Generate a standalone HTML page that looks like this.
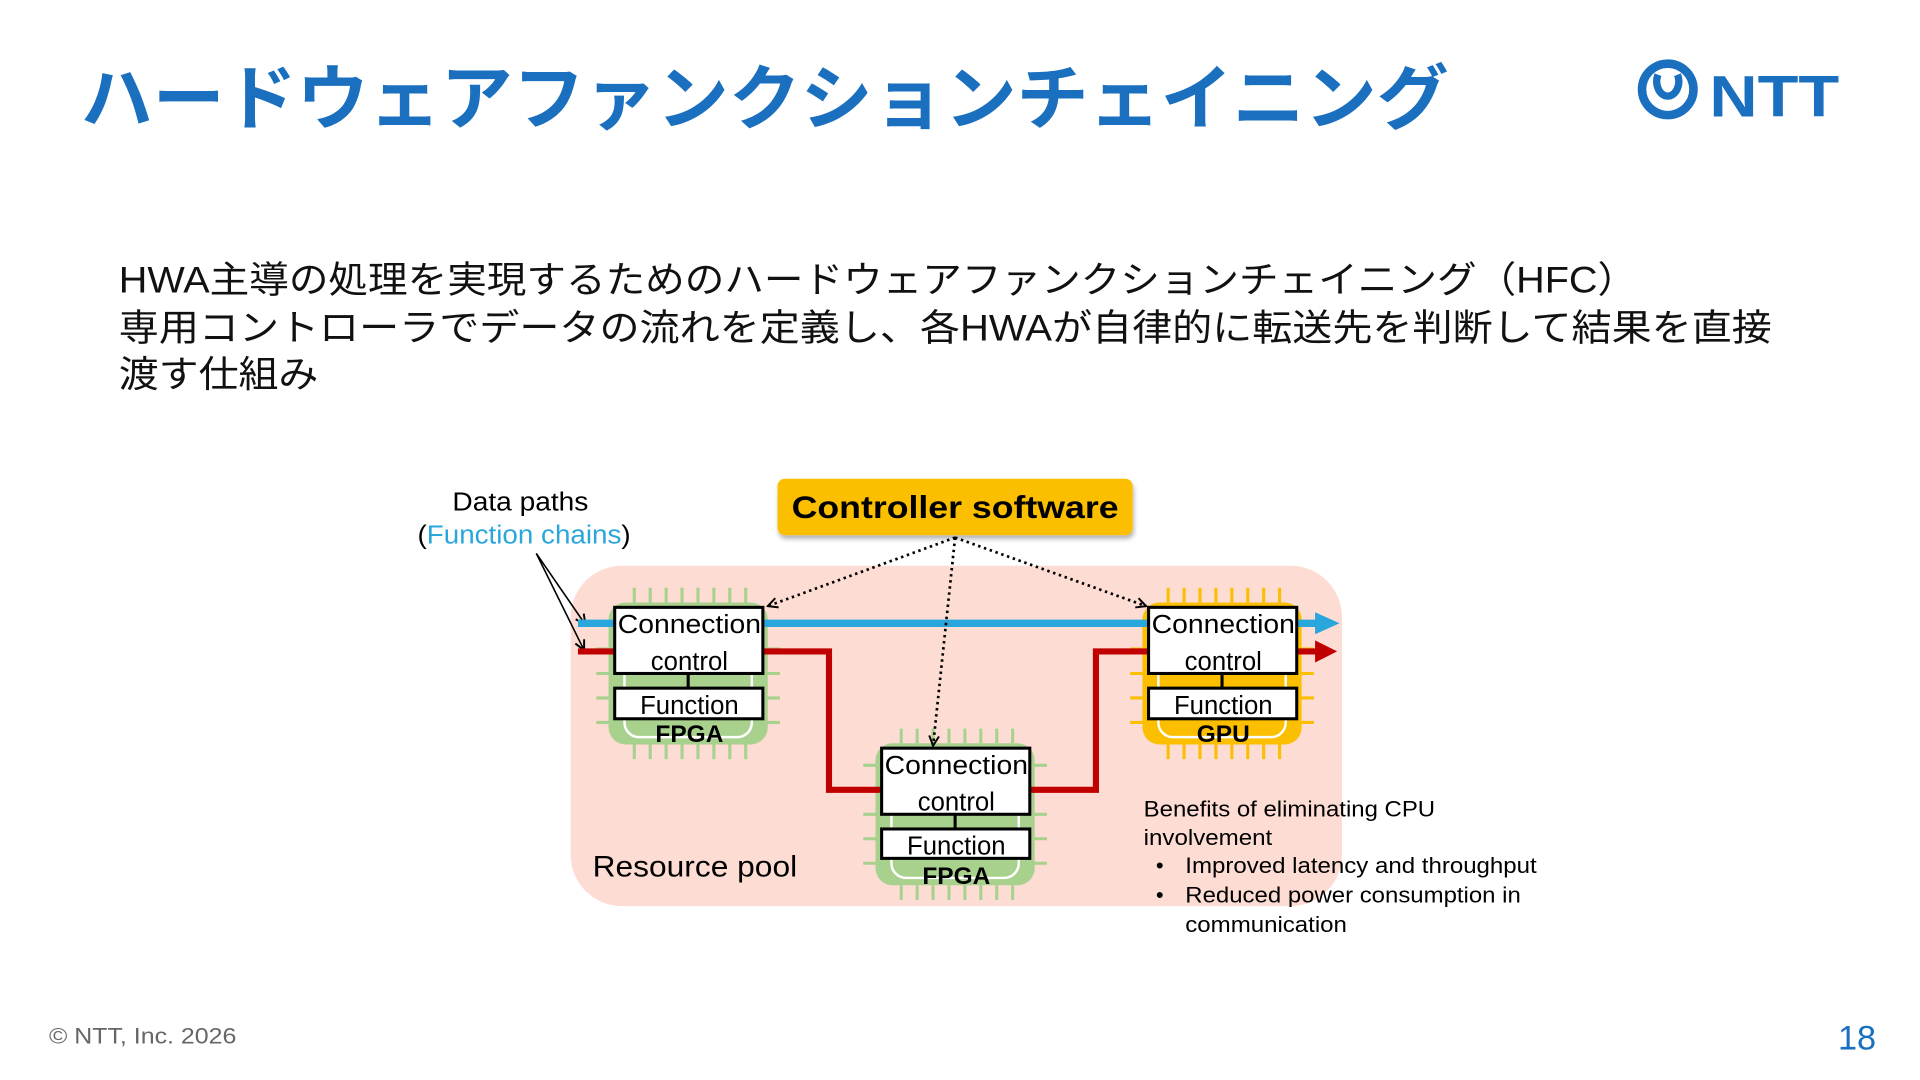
<!DOCTYPE html>
<html><head><meta charset="utf-8"><style>
html,body{margin:0;padding:0;background:#fff;width:1920px;height:1080px;overflow:hidden}
svg{display:block}
text{font-family:"Liberation Sans","Noto Sans CJK JP",sans-serif}
</style></head><body>
<svg width="1920" height="1080" viewBox="0 0 1568 882" xmlns="http://www.w3.org/2000/svg">
<defs>
<marker id="ah" markerWidth="10" markerHeight="10" refX="9" refY="5" orient="auto" markerUnits="userSpaceOnUse"><path d="M1,1 L9,5 L1,9" fill="none" stroke="#000" stroke-width="1.6"/></marker>
<filter id="sh" x="-10%" y="-10%" width="130%" height="140%"><feDropShadow dx="1" dy="3" stdDeviation="2" flood-color="#000" flood-opacity="0.3"/></filter>
</defs>
<text x="66" y="101" font-size="58" font-weight="bold" fill="#1a6fbf" style="font-family:'Noto Sans CJK JP',sans-serif" textLength="1117" lengthAdjust="spacingAndGlyphs">ハードウェアファンクションチェイニング</text>
<circle cx="1362" cy="73" r="21" fill="none" stroke="#1a6fbf" stroke-width="7"/>
<path d="M1362,73 m-8,-12 a9,12 0 1,0 16,0" fill="none" stroke="#1a6fbf" stroke-width="6"/>
<text x="1396" y="95" font-size="48" font-weight="bold" fill="#1a6fbf" textLength="106" lengthAdjust="spacingAndGlyphs">NTT</text>
<g font-size="30" fill="#111" style="font-family:'Liberation Sans','Noto Sans CJK JP',sans-serif">
<text x="97" y="239" textLength="1240" lengthAdjust="spacingAndGlyphs">HWA主導の処理を実現するためのハードウェアファンクションチェイニング（HFC）</text>
<text x="97" y="278" textLength="1350" lengthAdjust="spacingAndGlyphs">専用コントローラでデータの流れを定義し、各HWAが自律的に転送先を判断して結果を直接</text>
<text x="97" y="316" textLength="163" lengthAdjust="spacingAndGlyphs">渡す仕組み</text>
</g>
<rect x="466" y="462" width="630" height="278" rx="42" fill="#fcdcd3"/>
<text x="484" y="716" font-size="24" fill="#000" textLength="167" lengthAdjust="spacingAndGlyphs">Resource pool</text>
<rect x="635" y="391" width="290" height="46" rx="6" fill="#fbbf00" filter="url(#sh)"/>
<text x="780" y="423" font-size="26" font-weight="bold" text-anchor="middle" textLength="267" lengthAdjust="spacingAndGlyphs">Controller software</text>
<text x="425" y="417" font-size="21" text-anchor="middle" textLength="111" lengthAdjust="spacingAndGlyphs">Data paths</text>
<text x="428" y="444" font-size="21" text-anchor="middle" textLength="174" lengthAdjust="spacingAndGlyphs">(<tspan fill="#29a6dc">Function chains</tspan>)</text>
<line x1="438" y1="452" x2="478" y2="510" stroke="#000" stroke-width="1.3" marker-end="url(#ah)"/>
<line x1="438" y1="452" x2="477" y2="531" stroke="#000" stroke-width="1.3" marker-end="url(#ah)"/>

<g stroke="#a9d18e" stroke-width="2.5">
<path d="M518,480v12M531,480v12M544,480v12M557,480v12M570,480v12M583,480v12M596,480v12M609,480v12M518,608v12M531,608v12M544,608v12M557,608v12M570,608v12M583,608v12M596,608v12M609,608v12M487,510h11M487,530h11M487,550h11M487,570h11M487,590h11M626,510h11M626,530h11M626,550h11M626,570h11M626,590h11"/>
<path d="M736,595v12M749,595v12M762,595v12M775,595v12M788,595v12M801,595v12M814,595v12M827,595v12M736,723v12M749,723v12M762,723v12M775,723v12M788,723v12M801,723v12M814,723v12M827,723v12M705,625h11M705,645h11M705,665h11M705,685h11M705,705h11M844,625h11M844,645h11M844,665h11M844,685h11M844,705h11"/>
</g>
<g stroke="#fbbf00" stroke-width="2.5">
<path d="M954,480v12M967,480v12M980,480v12M993,480v12M1006,480v12M1019,480v12M1032,480v12M1045,480v12M954,608v12M967,608v12M980,608v12M993,608v12M1006,608v12M1019,608v12M1032,608v12M1045,608v12M923,510h11M923,530h11M923,550h11M923,570h11M923,590h11M1062,510h11M1062,530h11M1062,550h11M1062,570h11M1062,590h11"/>
</g>
<rect x="497" y="492" width="130" height="116" rx="14" fill="#a9d18e"/>
<rect x="510" y="505" width="104" height="97" rx="12" fill="none" stroke="#fff" stroke-width="2"/>
<rect x="715" y="607" width="130" height="116" rx="14" fill="#a9d18e"/>
<rect x="728" y="620" width="104" height="97" rx="12" fill="none" stroke="#fff" stroke-width="2"/>
<rect x="933" y="492" width="130" height="116" rx="14" fill="#fbbf00"/>
<rect x="946" y="505" width="104" height="97" rx="12" fill="none" stroke="#fff" stroke-width="2"/>

<line x1="472" y1="509" x2="1076" y2="509" stroke="#29a6dc" stroke-width="6"/>
<polygon points="1074,500 1094,509 1074,518" fill="#29a6dc"/>
<polyline points="472,532 677,532 677,645 895,645 895,532 1076,532" fill="none" stroke="#c00000" stroke-width="5"/>
<polygon points="1074,523 1092,532 1074,541" fill="#c00000"/>

<g stroke="#000" stroke-width="2.5" fill="#fff">
<rect x="502" y="496" width="121" height="54"/>
<rect x="502" y="562" width="121" height="25"/>
<rect x="720" y="611" width="121" height="54"/>
<rect x="720" y="677" width="121" height="24"/>
<rect x="938" y="496" width="121" height="54"/>
<rect x="938" y="562" width="121" height="25"/>
<path d="M562,550v12M780,665v12M998,550v12"/>
</g>
<g font-size="21" text-anchor="middle">
<text x="563" y="517" textLength="117" lengthAdjust="spacingAndGlyphs">Connection</text><text x="563" y="547">control</text><text x="563" y="583">Function</text>
<text x="781" y="632" textLength="117" lengthAdjust="spacingAndGlyphs">Connection</text><text x="781" y="662">control</text><text x="781" y="698">Function</text>
<text x="999" y="517" textLength="117" lengthAdjust="spacingAndGlyphs">Connection</text><text x="999" y="547">control</text><text x="999" y="583">Function</text>
</g>
<g font-size="20" font-weight="bold" text-anchor="middle">
<text x="563" y="606">FPGA</text><text x="781" y="722">FPGA</text><text x="999" y="606">GPU</text>
</g>

<g stroke="#000" stroke-width="2.2" stroke-dasharray="2,3" fill="none">
<line x1="780" y1="439" x2="627" y2="495" marker-end="url(#ah)"/>
<line x1="780" y1="439" x2="762" y2="609" marker-end="url(#ah)"/>
<line x1="780" y1="439" x2="936" y2="495" marker-end="url(#ah)"/>
</g>

<g font-size="18" fill="#000">
<text x="934" y="667" textLength="238" lengthAdjust="spacingAndGlyphs">Benefits of eliminating CPU</text>
<text x="934" y="690" textLength="105" lengthAdjust="spacingAndGlyphs">involvement</text>
<text x="944" y="713">•</text><text x="968" y="713" textLength="287" lengthAdjust="spacingAndGlyphs">Improved latency and throughput</text>
<text x="944" y="737">•</text><text x="968" y="737" textLength="274" lengthAdjust="spacingAndGlyphs">Reduced power consumption in</text>
<text x="968" y="761" textLength="132" lengthAdjust="spacingAndGlyphs">communication</text>
</g>

<text x="40" y="852" font-size="18" fill="#666" textLength="153" lengthAdjust="spacingAndGlyphs">© NTT, Inc.  2026</text>
<text x="1501" y="857" font-size="28" fill="#1a6fbf">18</text>
</svg>
</body></html>
